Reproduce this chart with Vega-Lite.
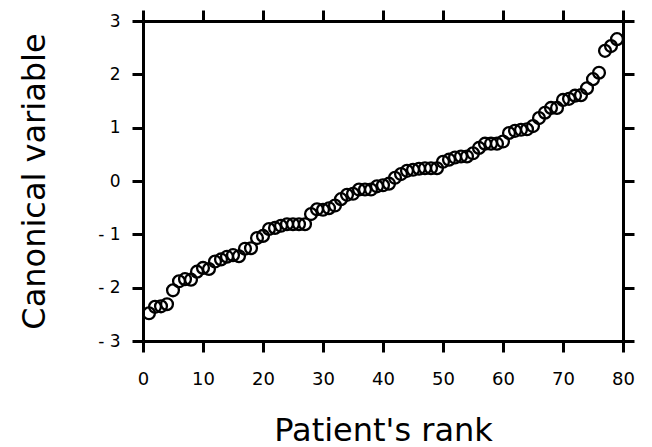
{
  "$schema": "https://vega.github.io/schema/vega-lite/v6.json",
  "autosize": {"type": "none"},
  "padding": {"left": 143, "top": 21, "right": 29, "bottom": 106},
  "width": 480,
  "height": 320,
  "background": "white",
  "config": {
    "view": {"stroke": null},
    "axis": {
      "grid": false,
      "domainColor": "black",
      "domainWidth": 3,
      "tickColor": "black",
      "tickWidth": 3,
      "tickSize": 11,
      "labelColor": "black",
      "titleColor": "black",
      "labelFont": "DejaVu Sans",
      "titleFont": "DejaVu Sans",
      "titleFontWeight": "normal"
    }
  },
  "data": {
    "values": [
      {"rank": 1, "value": -2.48}, {"rank": 2, "value": -2.36}, {"rank": 3, "value": -2.35},
      {"rank": 4, "value": -2.31}, {"rank": 5, "value": -2.05}, {"rank": 6, "value": -1.88},
      {"rank": 7, "value": -1.84}, {"rank": 8, "value": -1.85}, {"rank": 9, "value": -1.70},
      {"rank": 10, "value": -1.63}, {"rank": 11, "value": -1.65}, {"rank": 12, "value": -1.51},
      {"rank": 13, "value": -1.47}, {"rank": 14, "value": -1.42}, {"rank": 15, "value": -1.39},
      {"rank": 16, "value": -1.41}, {"rank": 17, "value": -1.27}, {"rank": 18, "value": -1.26},
      {"rank": 19, "value": -1.07}, {"rank": 20, "value": -1.03}, {"rank": 21, "value": -0.90},
      {"rank": 22, "value": -0.88}, {"rank": 23, "value": -0.84}, {"rank": 24, "value": -0.81},
      {"rank": 25, "value": -0.81}, {"rank": 26, "value": -0.81}, {"rank": 27, "value": -0.81},
      {"rank": 28, "value": -0.62}, {"rank": 29, "value": -0.53}, {"rank": 30, "value": -0.54},
      {"rank": 31, "value": -0.51}, {"rank": 32, "value": -0.46}, {"rank": 33, "value": -0.34},
      {"rank": 34, "value": -0.26}, {"rank": 35, "value": -0.24}, {"rank": 36, "value": -0.16},
      {"rank": 37, "value": -0.16}, {"rank": 38, "value": -0.16}, {"rank": 39, "value": -0.10},
      {"rank": 40, "value": -0.08}, {"rank": 41, "value": -0.05}, {"rank": 42, "value": 0.06},
      {"rank": 43, "value": 0.13}, {"rank": 44, "value": 0.19}, {"rank": 45, "value": 0.21},
      {"rank": 46, "value": 0.23}, {"rank": 47, "value": 0.24}, {"rank": 48, "value": 0.24},
      {"rank": 49, "value": 0.24}, {"rank": 50, "value": 0.36}, {"rank": 51, "value": 0.40},
      {"rank": 52, "value": 0.44}, {"rank": 53, "value": 0.46}, {"rank": 54, "value": 0.46},
      {"rank": 55, "value": 0.52}, {"rank": 56, "value": 0.62}, {"rank": 57, "value": 0.70},
      {"rank": 58, "value": 0.70}, {"rank": 59, "value": 0.70}, {"rank": 60, "value": 0.74},
      {"rank": 61, "value": 0.90}, {"rank": 62, "value": 0.94}, {"rank": 63, "value": 0.96},
      {"rank": 64, "value": 0.97}, {"rank": 65, "value": 1.03}, {"rank": 66, "value": 1.18},
      {"rank": 67, "value": 1.28}, {"rank": 68, "value": 1.37}, {"rank": 69, "value": 1.37},
      {"rank": 70, "value": 1.52}, {"rank": 71, "value": 1.54}, {"rank": 72, "value": 1.60},
      {"rank": 73, "value": 1.61}, {"rank": 74, "value": 1.74}, {"rank": 75, "value": 1.91},
      {"rank": 76, "value": 2.03}, {"rank": 77, "value": 2.44}, {"rank": 78, "value": 2.53},
      {"rank": 79, "value": 2.66}
    ]
  },
  "layer": [
    {
      "mark": {"type": "point", "shape": "circle", "filled": false, "stroke": "black", "strokeWidth": 2.3, "size": 140, "opacity": 1},
      "encoding": {
        "x": {
          "field": "rank", "type": "quantitative",
          "scale": {"domain": [0, 80], "nice": false, "zero": false},
          "axis": {
            "orient": "bottom", "values": [0, 10, 20, 30, 40, 50, 60, 70, 80],
            "labelFontSize": 18, "labelPadding": 18, "labelFlush": false,
            "title": "Patient's rank", "titleFontSize": 32,
            "titleY": 99, "titleBaseline": "alphabetic"
          }
        },
        "y": {
          "field": "value", "type": "quantitative",
          "scale": {"domain": [-3, 3], "nice": false, "zero": false},
          "axis": {
            "orient": "left", "values": [-3, -2, -1, 0, 1, 2, 3],
            "labelExpr": "datum.value < 0 ? '- ' + abs(datum.value) : datum.label",
            "labelFontSize": 17, "labelPadding": 12, "labelFlush": false,
            "title": "Canonical variable", "titleFontSize": 32,
            "titleX": -99, "titleBaseline": "alphabetic"
          }
        }
      }
    },
    {
      "mark": {"type": "point", "shape": "circle", "filled": false, "stroke": "black", "strokeWidth": 2, "size": 100, "opacity": 0},
      "encoding": {
        "x": {
          "field": "rank", "type": "quantitative",
          "axis": {"orient": "top", "values": [0, 10, 20, 30, 40, 50, 60, 70, 80], "labels": false, "title": null}
        },
        "y": {
          "field": "value", "type": "quantitative",
          "axis": {"orient": "right", "values": [-3, -2, -1, 0, 1, 2, 3], "labels": false, "title": null}
        }
      }
    }
  ],
  "resolve": {"axis": {"x": "independent", "y": "independent"}}
}
